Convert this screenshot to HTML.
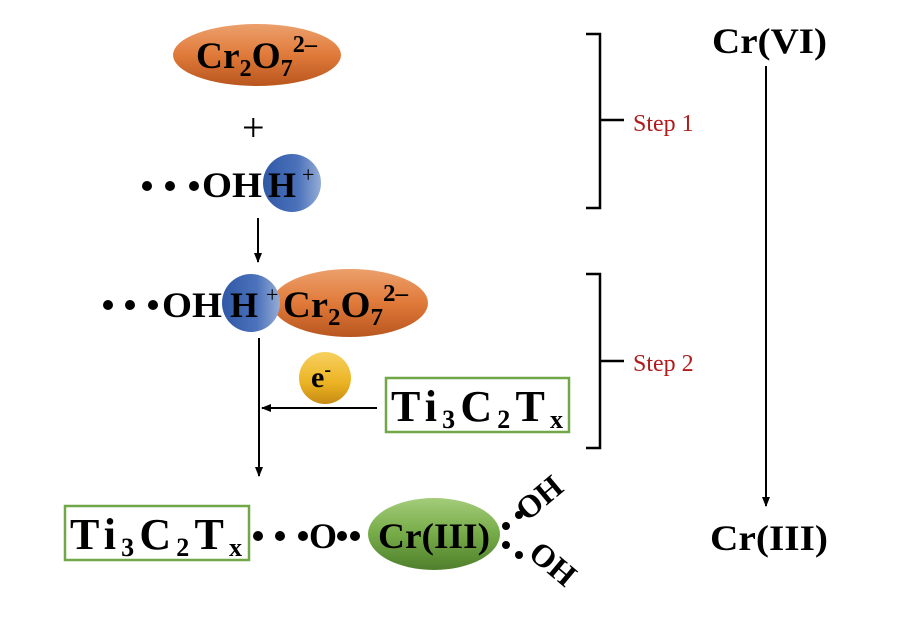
<!DOCTYPE html>
<html><head><meta charset="utf-8"><style>
html,body{margin:0;padding:0;background:#fff;}
svg{display:block;}
text{font-family:"Liberation Serif",serif;font-weight:bold;fill:#000;}
</style></head><body>
<svg width="900" height="619" viewBox="0 0 900 619" xmlns="http://www.w3.org/2000/svg">
<defs>
<linearGradient id="org" x1="0" y1="0" x2="0" y2="1"><stop offset="0" stop-color="#eca06c"/><stop offset="0.5" stop-color="#e07a3a"/><stop offset="1" stop-color="#b8561f"/></linearGradient>
<linearGradient id="blu" x1="0" y1="0" x2="1" y2="0"><stop offset="0" stop-color="#2f58a6"/><stop offset="0.6" stop-color="#4c72bb"/><stop offset="1" stop-color="#95acd6"/></linearGradient>
<linearGradient id="grn" x1="0" y1="0" x2="0" y2="1"><stop offset="0" stop-color="#a4cc7a"/><stop offset="0.5" stop-color="#76ab48"/><stop offset="1" stop-color="#4f7f2c"/></linearGradient>
<linearGradient id="yel" x1="0" y1="0" x2="0" y2="1"><stop offset="0" stop-color="#f7d060"/><stop offset="0.6" stop-color="#ebb322"/><stop offset="1" stop-color="#c68a14"/></linearGradient>
<marker id="ah" markerWidth="10" markerHeight="10" refX="9" refY="5" orient="auto" markerUnits="userSpaceOnUse"><path d="M0,1 L10,5 L0,9 Z" fill="#000"/></marker>
</defs>

<ellipse cx="257" cy="55" rx="84" ry="31" fill="url(#org)"/>
<text x="196" y="68" font-size="37" textLength="121" lengthAdjust="spacingAndGlyphs">Cr<tspan font-size="24" dy="8">2</tspan><tspan dy="-8">O</tspan><tspan font-size="24" dy="8">7</tspan><tspan font-size="24" dy="-24">2–</tspan></text>

<text x="242" y="141" font-size="40" style="font-weight:normal">+</text>

<circle cx="147" cy="186" r="5" fill="#000"/><circle cx="170" cy="186" r="5" fill="#000"/><circle cx="194" cy="186" r="5" fill="#000"/>
<circle cx="292" cy="183" r="29" fill="url(#blu)"/>
<text x="202" y="197" font-size="36" textLength="60" lengthAdjust="spacingAndGlyphs">OH</text>
<text x="268" y="197" font-size="36">H</text>
<text x="302" y="182" font-size="22" style="font-weight:normal">+</text>

<line x1="258" y1="218" x2="258" y2="262" stroke="#000" stroke-width="2" marker-end="url(#ah)"/>

<ellipse cx="350" cy="303" rx="78" ry="34" fill="url(#org)"/>
<circle cx="251" cy="303" r="29" fill="url(#blu)"/>
<circle cx="108" cy="305" r="5" fill="#000"/><circle cx="130" cy="305" r="5" fill="#000"/><circle cx="153" cy="305" r="5" fill="#000"/>
<text x="162" y="317" font-size="36" textLength="60" lengthAdjust="spacingAndGlyphs">OH</text>
<text x="230" y="317" font-size="36">H</text>
<text x="266" y="302" font-size="22" style="font-weight:normal">+</text>
<text x="283" y="317" font-size="37" textLength="125" lengthAdjust="spacingAndGlyphs">Cr<tspan font-size="24" dy="8">2</tspan><tspan dy="-8">O</tspan><tspan font-size="24" dy="8">7</tspan><tspan font-size="24" dy="-24">2–</tspan></text>

<line x1="259" y1="338" x2="259" y2="476" stroke="#000" stroke-width="2" marker-end="url(#ah)"/>
<line x1="377" y1="408" x2="262" y2="408" stroke="#000" stroke-width="2" marker-end="url(#ah)"/>

<circle cx="325" cy="378" r="26" fill="url(#yel)"/>
<text x="311" y="387" font-size="30">e<tspan font-size="20" dy="-11">-</tspan></text>

<rect x="386" y="378" width="183" height="54" fill="none" stroke="#70a847" stroke-width="2.5"/>
<text x="391" y="421" font-size="44" textLength="172" lengthAdjust="spacing">Ti<tspan font-size="26" dy="7">3</tspan><tspan dy="-7">C</tspan><tspan font-size="26" dy="7">2</tspan><tspan dy="-7">T</tspan><tspan font-size="26" dy="7">x</tspan></text>

<rect x="65" y="506" width="184" height="54" fill="none" stroke="#70a847" stroke-width="2.5"/>
<text x="70" y="549" font-size="44" textLength="172" lengthAdjust="spacing">Ti<tspan font-size="26" dy="7">3</tspan><tspan dy="-7">C</tspan><tspan font-size="26" dy="7">2</tspan><tspan dy="-7">T</tspan><tspan font-size="26" dy="7">x</tspan></text>
<circle cx="258" cy="536" r="5" fill="#000"/><circle cx="280" cy="536" r="5" fill="#000"/><circle cx="303" cy="536" r="5" fill="#000"/>
<text x="309" y="548" font-size="36">O</text>
<circle cx="342" cy="536" r="5" fill="#000"/><circle cx="355" cy="536" r="5" fill="#000"/>
<ellipse cx="434" cy="534" rx="66" ry="36" fill="url(#grn)"/>
<text x="378" y="548" font-size="36" textLength="112" lengthAdjust="spacingAndGlyphs">Cr(III)</text>
<circle cx="506" cy="526" r="4" fill="#000"/><circle cx="506" cy="545" r="4" fill="#000"/>
<circle cx="519" cy="515" r="4" fill="#000"/>
<text font-size="32" transform="translate(527,522) rotate(-40)">OH</text>
<circle cx="519" cy="555" r="4" fill="#000"/>
<text font-size="32" transform="translate(527,556) rotate(40)">OH</text>

<path d="M586,34 H600 V208 H586 M600,120 H624" fill="none" stroke="#000" stroke-width="2.5"/>
<text x="633" y="131" font-size="24" style="font-weight:normal;fill:#b01c1c">Step 1</text>
<path d="M586,274 H600 V448 H586 M600,361 H624" fill="none" stroke="#000" stroke-width="2.5"/>
<text x="633" y="371" font-size="24" style="font-weight:normal;fill:#b01c1c">Step 2</text>

<text x="712" y="53" font-size="36" textLength="115" lengthAdjust="spacingAndGlyphs">Cr(VI)</text>
<line x1="766" y1="66" x2="766" y2="506" stroke="#000" stroke-width="2" marker-end="url(#ah)"/>
<text x="710" y="550" font-size="36" textLength="118" lengthAdjust="spacingAndGlyphs">Cr(III)</text>
</svg>
</body></html>
